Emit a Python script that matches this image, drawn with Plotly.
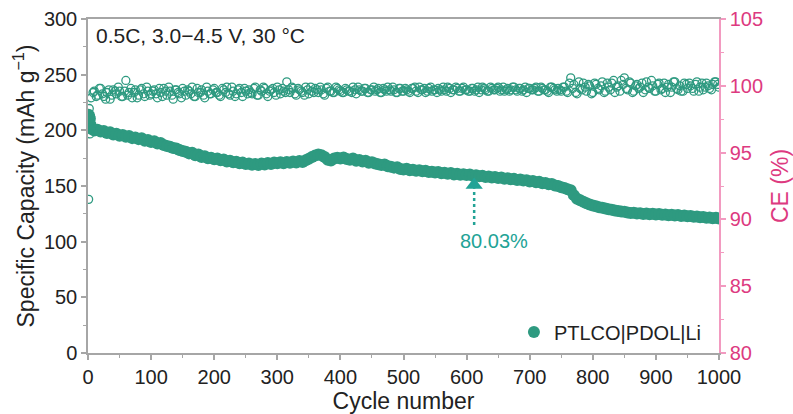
import plotly.graph_objects as go

# ---------------- data ----------------
cap_cycles_first = [1, 2, 3, 4]
cap_first = [214.0, 212.5, 210.5, 205.0]
cycles_step = list(range(5, 1001, 5))
capacity_vals = [
    201.5, 199.8, 200.6, 198.9, 199.4, 197.6, 198.3, 196.2, 196.9, 195.1,
    195.8, 194.2, 194.9, 193.0, 193.6, 192.1, 192.8, 190.7, 191.3, 189.6,
    190.2, 188.1, 188.7, 186.8, 186.0, 185.3, 184.1, 183.6, 182.4, 181.5,
    180.8, 179.3, 179.9, 177.6, 178.2, 176.1, 176.7, 175.0, 175.4, 174.1,
    174.6, 173.2, 173.8, 172.1, 172.6, 171.3, 171.8, 170.4, 171.0, 169.8,
    170.3, 169.1, 169.7, 168.9, 170.2, 169.4, 170.6, 169.8, 171.2, 170.5,
    171.3, 170.4, 171.6, 170.8, 172.0, 171.2, 172.4, 171.5, 173.2, 174.5,
    176.0, 177.3, 178.2, 177.6, 176.0, 173.5, 172.8, 174.6, 175.3, 174.8,
    175.6, 174.2, 173.5, 174.8, 172.7, 173.4, 171.9, 172.6, 170.8, 171.4,
    170.2, 169.6, 168.9, 169.3, 167.8, 167.2, 166.5, 166.9, 165.3, 164.8,
    165.4, 164.2, 164.7, 163.6, 164.1, 163.2, 163.7, 162.5, 162.9, 162.1,
    162.6, 161.5, 162.0, 161.1, 161.6, 160.4, 161.0, 160.2, 160.6, 159.8,
    160.3, 159.2, 159.7, 158.8, 159.3, 158.1, 158.6, 157.6, 158.0, 157.2,
    157.6, 156.5, 156.9, 156.1, 156.4, 155.3, 155.8, 154.9, 155.2, 154.1,
    154.5, 153.4, 153.8, 152.5, 152.8, 151.6, 151.9, 150.5, 150.0, 148.9,
    148.2, 147.0, 146.1, 141.8, 138.6, 137.1, 135.9, 134.6, 133.4, 132.5,
    131.8, 131.0, 130.4, 129.7, 129.1, 128.6, 128.0, 127.6, 127.1, 126.8,
    126.3, 125.7, 126.0, 125.2, 125.6, 124.9, 125.3, 124.6, 125.0, 124.5,
    124.8, 124.1, 124.5, 123.8, 124.2, 123.5, 123.9, 123.1, 123.4, 122.8,
    123.1, 122.4, 122.7, 121.9, 122.2, 121.5, 121.8, 121.1, 121.4, 120.9,
]
ce_first = [91.5, 98.3, 96.4, 96.8]
ce_vals = [
    99.1, 99.6, 99.3, 99.8, 99.2, 99.5, 99.0, 99.7, 99.4, 99.6,
    99.2, 100.4, 99.5, 99.1, 99.7, 99.3, 99.8, 99.2, 99.6, 99.4,
    99.7, 99.1, 99.5, 99.8, 99.3, 99.6, 99.0, 99.7, 99.4, 99.8,
    99.3, 99.6, 99.9, 99.2, 99.5, 99.7, 99.1, 99.6, 99.4, 99.8,
    99.5, 99.2, 99.7, 99.9, 99.3, 99.6, 99.4, 99.8, 99.2, 99.6,
    99.7, 99.4, 99.9, 99.3, 99.6, 99.8, 99.2, 99.7, 99.5, 99.9,
    99.4, 99.6, 100.3, 99.5, 99.8, 99.3, 99.7, 99.5, 99.9, 99.4,
    99.6, 99.8, 99.5, 99.7, 99.3, 99.9, 99.6, 99.5, 99.8, 99.6,
    99.5, 99.7, 99.6, 99.9, 99.4, 99.7, 99.6, 99.8, 99.5, 99.7,
    99.6, 99.8, 99.5, 99.7, 99.9, 99.6, 99.7, 99.5, 99.8, 99.6,
    99.7, 99.5, 99.8, 99.6, 99.9, 99.7, 99.5, 99.8, 99.6, 99.7,
    99.8, 99.6, 99.7, 99.9, 99.5, 99.7, 99.8, 99.6, 99.9, 99.7,
    99.6, 99.8, 99.7, 99.5, 99.9, 99.7, 99.6, 99.8, 99.7, 99.9,
    99.7, 99.6, 99.8, 99.7, 99.9, 99.6, 99.8, 99.7, 99.5, 99.8,
    99.7, 99.9, 99.6, 99.8, 99.7, 99.5, 99.9, 99.7, 99.8, 99.6,
    99.9, 99.5, 100.6, 100.1, 99.4, 99.8, 100.2, 99.6, 100.0, 99.5,
    100.1, 99.7, 100.3, 99.6, 99.9, 100.2, 99.5, 100.0, 100.4, 100.6,
    99.7, 100.2, 99.6, 100.1, 99.9, 99.5, 100.3, 99.8, 100.0, 99.6,
    100.2, 99.8, 99.5, 100.1, 99.9, 100.3, 99.7, 99.6, 100.2, 99.8,
    100.0, 99.6, 100.3, 99.9, 99.7, 100.2, 99.8, 100.1, 100.3, 99.9,
]
cycles_b = list(range(8, 1001, 5))
ce_vals_b = [
    99.5, 99.2, 99.8, 99.4, 99.0, 99.7, 99.3, 99.6, 99.9, 99.2,
    99.6, 99.3, 99.8, 99.5, 99.1, 99.7, 99.4, 99.9, 99.3, 99.6,
    99.4, 99.8, 99.2, 99.6, 99.9, 99.3, 99.7, 99.5, 99.1, 99.6,
    99.7, 99.4, 99.2, 99.8, 99.5, 99.3, 99.9, 99.4, 99.7, 99.5,
    99.3, 99.8, 99.5, 99.4, 99.9, 99.2, 99.7, 99.5, 99.8, 99.4,
    99.5, 99.8, 99.3, 99.7, 99.9, 99.4, 99.6, 99.8, 99.3, 99.7,
    99.8, 99.5, 99.7, 99.9, 99.4, 99.8, 99.6, 99.3, 99.7, 99.9,
    99.5, 99.7, 99.9, 99.4, 99.8, 99.6, 99.5, 99.9, 99.7, 99.5,
    99.8, 99.6, 99.5, 99.7, 99.9, 99.6, 99.8, 99.5, 99.7, 99.9,
    99.7, 99.5, 99.8, 99.6, 99.7, 99.9, 99.5, 99.8, 99.6, 99.8,
    99.6, 99.8, 99.9, 99.5, 99.7, 99.8, 99.6, 99.9, 99.7, 99.5,
    99.7, 99.9, 99.6, 99.8, 99.7, 99.9, 99.6, 99.8, 99.7, 99.6,
    99.8, 99.6, 99.9, 99.7, 99.8, 99.6, 99.9, 99.7, 99.8, 99.6,
    99.9, 99.7, 99.6, 99.9, 99.7, 99.8, 99.6, 99.9, 99.8, 99.7,
    99.8, 99.6, 99.9, 99.7, 99.6, 99.9, 99.8, 99.6, 99.7, 99.9,
    99.6, 100.2, 99.8, 99.5, 100.3, 99.7, 99.9, 100.1, 99.4, 100.2,
    99.8, 100.0, 99.5, 100.2, 99.7, 100.4, 99.9, 99.6, 100.1, 99.8,
    100.3, 99.5, 100.0, 99.8, 100.2, 99.7, 99.9, 100.4, 99.6, 100.1,
    99.7, 100.2, 99.9, 99.5, 100.3, 99.8, 100.0, 99.6, 100.1, 100.2,
    99.8, 100.1, 99.6, 100.2, 99.9, 100.0, 99.7, 100.3, 100.1,
]
cycles = cap_cycles_first + cycles_step
capacity = cap_first + capacity_vals
ce_cycles = cap_cycles_first + cycles_step + cycles_b
ce = ce_first + ce_vals + ce_vals_b

retention_cycle = 612
retention_label = "80.03%"
arrow_tail_cap = 115
arrow_tip_cap = 151

TEAL = "#2e9a80"
TEAL2 = "#22a396"
PINK = "#dd3a80"
PINK_LINE = "#f29ac0"
GREY = "#a6a6a6"
FONT = "Arial, Liberation Sans, sans-serif"

fig = go.Figure()

fig.add_trace(go.Scatter(
    x=ce_cycles, y=ce, yaxis="y2", mode="markers", showlegend=False,
    marker=dict(symbol="circle-open", size=8, color=TEAL, line=dict(width=1.3, color=TEAL)),
))
fig.add_trace(go.Scatter(
    x=cycles, y=capacity, mode="markers", name="PTLCO|PDOL|Li",
    marker=dict(symbol="circle", size=12, color=TEAL),
))
# retention arrow
fig.add_trace(go.Scatter(
    x=[retention_cycle, retention_cycle], y=[arrow_tail_cap, arrow_tip_cap - 3],
    mode="lines", showlegend=False, line=dict(color=TEAL2, width=2.5, dash="dot"),
))
fig.add_trace(go.Scatter(
    x=[retention_cycle], y=[arrow_tip_cap], mode="markers", showlegend=False,
    marker=dict(symbol="triangle-up", size=15, color=TEAL2),
))

fig.add_annotation(x=644, y=100.5, text=retention_label, showarrow=False,
                   font=dict(size=20, color=TEAL2, family=FONT))
fig.add_annotation(xref="paper", yref="paper", x=0.01, y=0.95, xanchor="left",
                   yanchor="middle", text="0.5C, 3.0\u22124.5 V, 30 \u00b0C", showarrow=False,
                   font=dict(size=21, color="#222222", family=FONT))

fig.update_layout(
    width=793, height=414,
    margin=dict(l=88, r=74, t=19, b=61),
    paper_bgcolor="white", plot_bgcolor="white",
    font=dict(family=FONT, size=20, color="#222222"),
    xaxis=dict(
        range=[0, 1000], dtick=100, tick0=0, showgrid=False, zeroline=False,
        showline=True, linecolor=GREY, linewidth=1.5, mirror=True, automargin=False,
        ticks="outside", ticklen=5, tickcolor=GREY, tickwidth=1.5,
        minor=dict(ticks="outside", ticklen=3, dtick=50, tickcolor=GREY, tickwidth=1),
        tickfont=dict(size=20, color="#222222"),
        title=dict(text="Cycle number", font=dict(size=23), standoff=0),
    ),
    yaxis=dict(
        range=[0, 300], dtick=50, showgrid=False, zeroline=False, automargin=False,
        showline=True, linecolor=GREY, linewidth=1.5,
        ticks="outside", ticklen=5, tickcolor=GREY, tickwidth=1.5,
        minor=dict(ticks="outside", ticklen=3, dtick=25, tickcolor=GREY, tickwidth=1),
        tickfont=dict(size=20, color="#222222"),
        title=dict(text="Specific Capacity (mAh g<sup>\u22121</sup>)", font=dict(size=23), standoff=3),
    ),
    yaxis2=dict(
        range=[80, 105], dtick=5, overlaying="y", side="right", showgrid=False,
        zeroline=False, showline=True, linecolor=PINK_LINE, linewidth=1.5, automargin=False,
        ticks="outside", ticklen=5, tickcolor=PINK_LINE, tickwidth=1.5,
        minor=dict(ticks="outside", ticklen=3, dtick=2.5, tickcolor=PINK_LINE, tickwidth=1),
        tickfont=dict(size=20, color=PINK),
        title=dict(text="CE (%)", font=dict(size=23, color=PINK), standoff=10),
    ),
    legend=dict(x=0.675, y=0.063, xanchor="left", yanchor="middle",
                bgcolor="rgba(0,0,0,0)", font=dict(size=20, color="#222222"),
                itemsizing="trace"),
    showlegend=True,
)

fig.write_html("out.html")
